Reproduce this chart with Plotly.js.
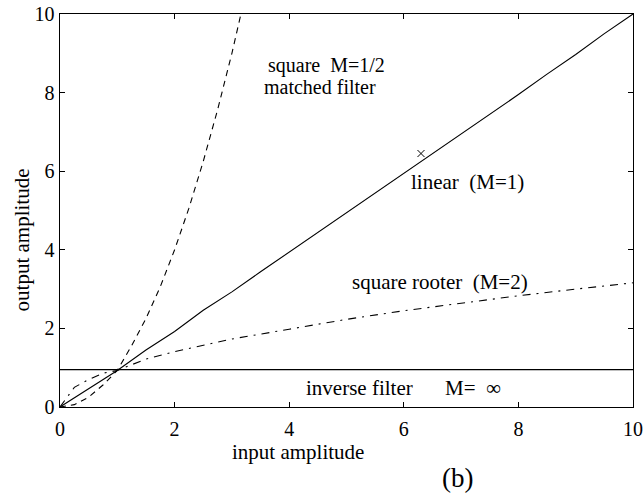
<!DOCTYPE html>
<html>
<head>
<meta charset="utf-8">
<script src="https://cdn.plot.ly/plotly-3.0.1.min.js"></script>
<style>html,body{margin:0;padding:0;background:#fff;}#chart{width:643px;height:494px;}</style>
</head>
<body>
<div id="chart"></div>
<script>
// Data
const linearX = [0, 0.5, 1, 1.5, 2, 2.5, 3, 3.5, 4, 4.5, 5, 5.5, 6, 6.5, 7, 7.5, 8, 8.5, 9, 9.5, 10];
const linearY = [0, 0.47, 0.93, 1.45, 1.92, 2.46, 2.93, 3.44, 3.94, 4.45, 4.94, 5.44, 5.95, 6.46, 6.95, 7.44, 7.95, 8.47, 8.97, 9.5, 10];

const squareX = [0, 0.25, 0.5, 0.75, 1, 1.25, 1.5, 1.75, 2, 2.25, 2.5, 2.75, 3, 3.15];
const squareY = [0, 0.06, 0.25, 0.56, 0.93, 1.56, 2.25, 3.06, 4.0, 5.06, 6.25, 7.56, 9.0, 9.95];

const rootX = [0, 0.25, 0.5, 0.75, 1, 1.5, 2, 3, 4, 5, 6, 7, 8, 9, 10];
const rootY = [0, 0.5, 0.7, 0.86, 0.93, 1.22, 1.41, 1.73, 1.98, 2.23, 2.45, 2.64, 2.83, 3.0, 3.16];

const inverseX = [0, 10];
const inverseY = [0.95, 0.95];

const markX = [6.3];
const markY = [6.45];

const tickVals = [0, 2, 4, 6, 8, 10];

const serif = "Liberation Serif, Times New Roman, serif";
const lineStyle = {color: "black", width: 1.1};

const traces = [
  {x: linearX, y: linearY, mode: "lines", line: Object.assign({}, lineStyle), showlegend: false},
  {x: squareX, y: squareY, mode: "lines", line: Object.assign({dash: "6px,5px"}, lineStyle), showlegend: false},
  {x: rootX, y: rootY, mode: "lines", line: Object.assign({dash: "8px,6px,2px,6px"}, lineStyle), showlegend: false},
  {x: inverseX, y: inverseY, mode: "lines", line: Object.assign({}, lineStyle), showlegend: false},
  {x: markX, y: markY, mode: "markers", marker: {symbol: "x-thin", size: 7, line: {color: "black", width: 1}}, showlegend: false}
];

const axisCommon = {
  range: [0, 10],
  tickvals: tickVals,
  ticks: "inside",
  ticklen: 5,
  tickcolor: "black",
  showline: true,
  linecolor: "black",
  linewidth: 1.4,
  mirror: "ticks",
  showgrid: false,
  zeroline: false,
  tickfont: {family: serif, size: 20, color: "black"}
};

const annFont = {family: serif, size: 21, color: "black"};
function ann(text, x, y, ref, extra) {
  return Object.assign({text: text, x: x, y: y, xref: ref === "paper" ? "paper" : "x", yref: ref === "paper" ? "paper" : "y",
    xanchor: "center", yanchor: "middle", showarrow: false, font: annFont}, extra || {});
}
const smallFont = {family: serif, size: 20, color: "black"};
const layout = {
  width: 643,
  height: 494,
  margin: {l: 60, r: 10, t: 14, b: 87},
  paper_bgcolor: "white",
  plot_bgcolor: "white",
  xaxis: Object.assign({}, axisCommon, {ticklabelstandoff: 4}),
  yaxis: Object.assign({}, axisCommon),
  annotations: [
    ann("square  M=1/2", 4.65, 8.7, "data", {font: smallFont}),
    ann("matched filter", 4.53, 8.15, "data", {font: smallFont}),
    ann("linear  (M=1)", 7.12, 5.73, "data"),
    ann("square rooter  (M=2)", 6.63, 3.18, "data"),
    ann("inverse filter", 5.23, 0.48, "data"),
    ann("M=  ∞", 7.2, 0.48, "data"),
    ann("input amplitude", 0.415, -0.115, "paper"),
    ann("(b)", 0.694, -0.18, "paper", {font: {family: serif, size: 27, color: "black"}}),
    ann("output amplitude", -0.0655, 0.425, "paper", {textangle: -90})
  ]
};

Plotly.newPlot("chart", traces, layout, {staticPlot: true, displayModeBar: false});
</script>
</body>
</html>
